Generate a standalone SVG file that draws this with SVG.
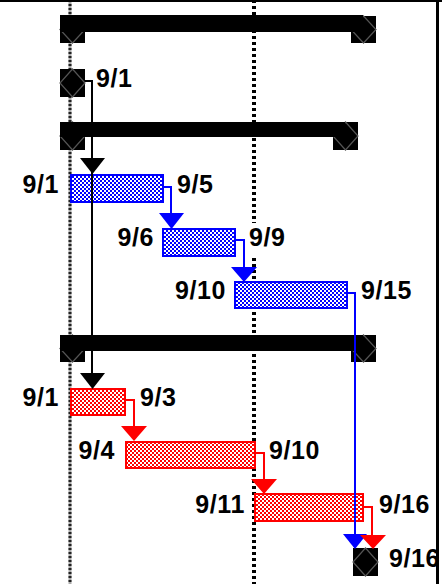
<svg xmlns="http://www.w3.org/2000/svg" width="442" height="584" viewBox="0 0 442 584">
  <defs>
    <pattern id="chkBlue" width="4" height="4" patternUnits="userSpaceOnUse">
      <rect width="4" height="4" fill="#fff"/>
      <rect width="2" height="2" fill="#0000ff"/>
      <rect x="2" y="2" width="2" height="2" fill="#0000ff"/>
    </pattern>
    <pattern id="chkRed" width="4" height="4" patternUnits="userSpaceOnUse">
      <rect width="4" height="4" fill="#fff"/>
      <rect width="2" height="2" fill="#ff0000"/>
      <rect x="2" y="2" width="2" height="2" fill="#ff0000"/>
    </pattern>
  </defs>
  <style>
    .lbl { font-family: "Liberation Sans", Arial, sans-serif; font-weight: bold; font-size: 25px; letter-spacing: 0.6px; fill: #000; }
    .end { text-anchor: end; }
    .sum { fill: #000; }
    .dia { fill: none; stroke: #555; stroke-width: 1.2; }
    .tb { fill: url(#chkBlue); stroke: #0000ff; stroke-width: 2; }
    .tr { fill: url(#chkRed); stroke: #ff0000; stroke-width: 2; }
    .cb { fill: none; stroke: #000; stroke-width: 2; }
    .cbl { fill: none; stroke: #0000ff; stroke-width: 2; }
    .crd { fill: none; stroke: #ff0000; stroke-width: 2; }
  </style>

  <rect width="442" height="584" fill="#fff"/>

  <!-- time grid -->
  <g id="grid">
    <line x1="70" y1="0" x2="70" y2="584" stroke="#aaa" stroke-width="3"/>
    <line x1="70" y1="0" x2="70" y2="584" stroke="#222" stroke-width="3" stroke-dasharray="2,2"/>
    <line x1="254" y1="0" x2="254" y2="584" stroke="#000" stroke-width="4" stroke-dasharray="3,3"/>
  </g>

  <!-- frame -->
  <g id="frame">
    <rect x="0" y="0" width="442" height="2" fill="#000"/>
    <rect x="436" y="0" width="3" height="584" fill="#000"/>
  </g>

  <!-- summary rows -->
  <g id="summary1">
    <rect class="sum" x="60" y="16" width="25" height="27"/>
    <path class="dia" d="M72.5,16 L85,29.5 L72.5,43 L60,29.5 Z"/>
    <rect class="sum" x="351" y="16" width="25" height="27"/>
    <path class="dia" d="M363.5,16 L376,29.5 L363.5,43 L351,29.5 Z"/>
    <rect class="sum" x="60" y="15" width="303" height="17"/>
  </g>

  <g id="milestone-start">
    <rect class="sum" x="60" y="69" width="25" height="28"/>
    <path class="dia" d="M72.5,69 L85,83 L72.5,97 L60,83 Z"/>
    <text class="lbl" x="96" y="87">9/1</text>
  </g>

  <g id="summary2">
    <rect class="sum" x="60" y="122" width="25" height="28"/>
    <path class="dia" d="M72.5,122 L85,136 L72.5,150 L60,136 Z"/>
    <rect class="sum" x="333" y="122" width="25" height="28"/>
    <path class="dia" d="M345.5,122 L358,136 L345.5,150 L333,136 Z"/>
    <rect class="sum" x="60" y="122" width="285" height="15"/>
  </g>

  <g id="task-b1">
    <rect class="tb" x="71" y="175" width="92" height="27"/>
    <text class="lbl end" x="59" y="193">9/1</text>
    <text class="lbl" x="177" y="193">9/5</text>
  </g>
  <g id="task-b2">
    <rect class="tb" x="163" y="229" width="72" height="27"/>
    <text class="lbl end" x="154" y="246">9/6</text>
    <rect x="246" y="223" width="44" height="33" fill="#fff"/>
    <text class="lbl" x="249" y="246">9/9</text>
  </g>
  <g id="task-b3">
    <rect class="tb" x="235" y="282" width="112" height="26"/>
    <text class="lbl end" x="226" y="299">9/10</text>
    <text class="lbl" x="361" y="299">9/15</text>
  </g>

  <g id="summary3">
    <rect class="sum" x="60" y="335" width="25" height="27"/>
    <path class="dia" d="M72.5,335 L85,348.5 L72.5,362 L60,348.5 Z"/>
    <rect class="sum" x="351" y="335" width="25" height="27"/>
    <path class="dia" d="M363.5,335 L376,348.5 L363.5,362 L351,348.5 Z"/>
    <rect class="sum" x="60" y="335" width="303" height="16"/>
  </g>

  <g id="task-r1">
    <rect class="tr" x="71" y="389" width="54" height="26"/>
    <text class="lbl end" x="59" y="406">9/1</text>
    <text class="lbl" x="140" y="406">9/3</text>
  </g>
  <g id="task-r2">
    <rect class="tr" x="126" y="442" width="129" height="26"/>
    <text class="lbl end" x="115" y="459">9/4</text>
    <text class="lbl" x="269" y="459">9/10</text>
  </g>
  <g id="task-r3">
    <rect class="tr" x="255" y="494" width="108" height="27"/>
    <text class="lbl end" x="245" y="513">9/11</text>
    <text class="lbl" x="379" y="513">9/16</text>
  </g>

  <g id="milestone-end">
    <rect class="sum" x="353" y="548" width="25" height="28"/>
    <path class="dia" d="M365.5,548 L378,562 L365.5,576 L353,562 Z"/>
    <text class="lbl" x="389" y="567">9/16</text>
  </g>

  <!-- dependency links -->
  <g id="connectors">
    <path class="cb" d="M85,81 H92 V373"/>
    <path d="M80,158 L105,158 L92.5,174 Z" fill="#000"/>
    <path d="M80,373 L105,373 L92.5,389 Z" fill="#000"/>

    <path class="cbl" d="M164,187 H171 V214"/>
    <path d="M159,213 L184,213 L171.5,229 Z" fill="#0000ff"/>
    <path class="cbl" d="M236,240 H244 V268"/>
    <path d="M231,267 L257,267 L244,282 Z" fill="#0000ff"/>
    <path class="cbl" d="M348,293 H355 V535"/>
    <path d="M343,534 L367,534 L355,549 Z" fill="#0000ff"/>

    <path class="crd" d="M126,400 H134 V427"/>
    <path d="M121,426 L147,426 L134,441 Z" fill="#ff0000"/>
    <path class="crd" d="M256,453 H264 V480"/>
    <path d="M251,479 L277,479 L264,494 Z" fill="#ff0000"/>
    <path class="crd" d="M364,507 H372 V536"/>
    <path d="M360,535 L386,535 L373,549 Z" fill="#ff0000"/>
  </g>
</svg>
